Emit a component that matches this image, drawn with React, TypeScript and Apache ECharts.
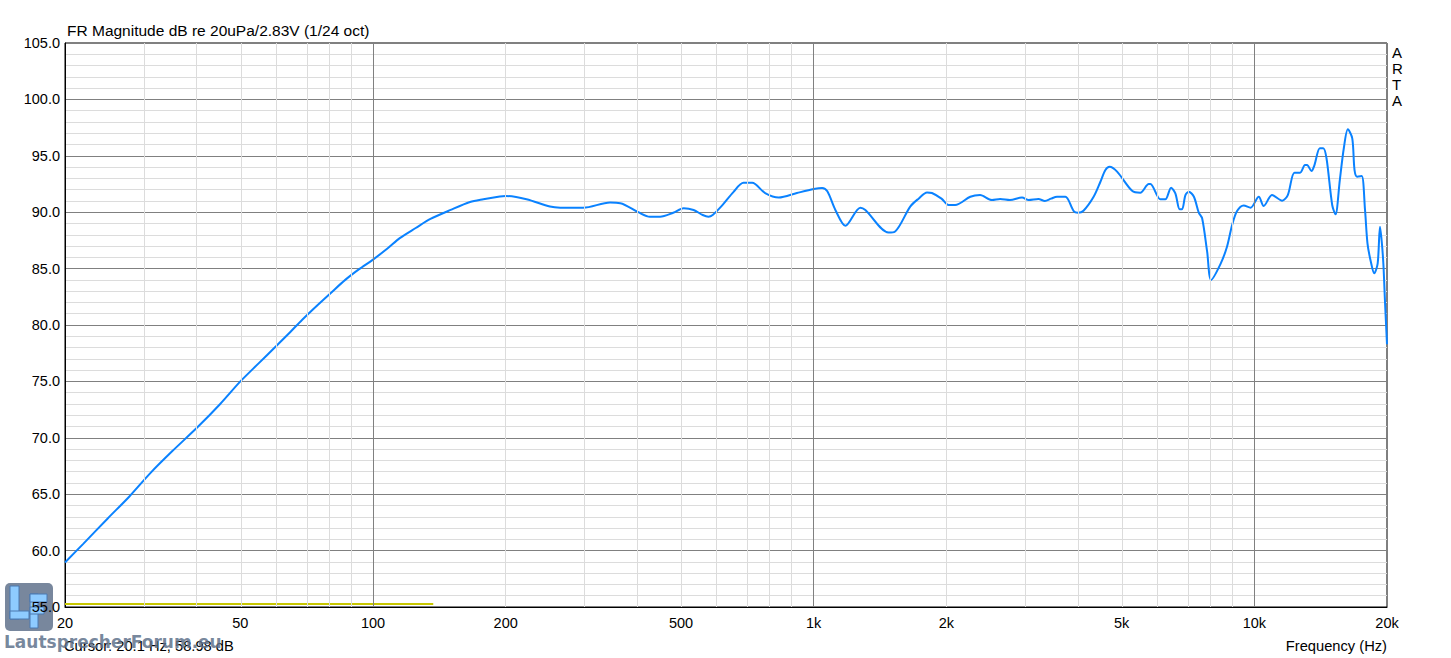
import React, { useEffect, useRef } from "react";
import * as echarts from "echarts";

// Frequency response (Hz, dB)
const freqHz = [
  20, 22, 25, 28, 31.2, 35, 40, 45, 50, 55, 60, 65, 69, 75, 80, 86.5, 93, 100, 108, 115, 125, 135, 150, 166, 178, 194,
  200, 223, 252, 266, 300, 345, 364, 400, 425, 448, 480, 507, 534, 560, 577, 590, 620, 658, 693, 725, 776, 833, 916,
  1000, 1045, 1074, 1120, 1180, 1276, 1310, 1479, 1528, 1656, 1730, 1808, 1855, 1950, 2024, 2094, 2267, 2385, 2539,
  2650, 2789, 2970, 3075, 3236, 3347, 3456, 3567, 3725, 3891, 3980, 4095, 4318, 4474, 4592, 4693, 4881, 5279, 5510,
  5759, 5810, 6120, 6281, 6473, 6618, 6769, 6854, 6976, 7100, 7292, 7480, 7612, 7814, 7980, 8377, 8668, 8904, 9136,
  9459, 9802, 10235, 10500, 10970, 11563, 11910, 12330, 12700, 13030, 13170, 13480, 13690, 14080, 14330, 14580, 15020,
  15280, 15630, 15960, 16300, 16680, 16880, 17120, 17520, 17830, 18060, 18380, 18710, 19050, 19280, 19460, 19630,
  19800, 20000,
];
const magDb = [
  58.95, 60.6, 62.85, 64.8, 66.85, 68.8, 70.95, 73.0, 75.0, 76.6, 78.05, 79.4, 80.45, 81.8, 82.8, 84.0, 84.95, 85.8,
  86.8, 87.7, 88.6, 89.4, 90.2, 90.9, 91.15, 91.4, 91.44, 91.15, 90.5, 90.4, 90.4, 90.85, 90.8, 90.0, 89.6, 89.6,
  89.95, 90.35, 90.2, 89.75, 89.6, 89.75, 90.6, 91.8, 92.6, 92.6, 91.7, 91.3, 91.7, 92.05, 92.15, 91.85, 90.2, 88.8,
  90.4, 90.2, 88.2, 88.27, 90.5, 91.2, 91.75, 91.7, 91.2, 90.64, 90.64, 91.37, 91.52, 91.08, 91.17, 91.08, 91.3,
  91.08, 91.17, 91.0, 91.2, 91.37, 91.37, 90.1, 89.96, 90.13, 91.37, 92.7, 93.74, 94.03, 93.6, 91.9, 91.73, 92.5,
  92.5, 91.14, 91.14, 92.17, 91.67, 90.26, 90.26, 91.52, 91.82, 91.37, 89.96, 89.46, 86.5, 84.0, 85.4, 86.94, 88.87,
  90.1, 90.6, 90.4, 91.37, 90.55, 91.52, 91.02, 91.52, 93.5, 93.5, 94.18, 94.18, 93.65, 94.18, 95.67, 95.67, 94.78,
  90.64, 89.81, 92.85, 95.67, 97.35, 96.55, 93.74, 93.15, 93.21, 90.2, 87.24, 85.61, 84.58, 85.47, 88.71, 87.38,
  85.32, 81.92, 78.3,
];

// Second (yellow) trace
const noiseHz = [20, 137];
const noiseDb = [55.27, 55.27];

const cursorHz = 20.1;
const cursorDb = 58.98;

const xTickHz = [20, 50, 100, 200, 500, 1000, 2000, 5000, 10000, 20000];
const majorGridHz = [100, 1000, 10000];
const minorGridHz = [
  30, 40, 50, 60, 70, 80, 90, 200, 300, 400, 500, 600, 700, 800, 900, 2000, 3000, 4000, 5000, 6000, 7000, 8000, 9000,
];

const yMin = 55;
const yMax = 105;
const yStep = 5;

const lg = (f: number) => Math.log10(f);
const fmtHz = (f: number) => (f >= 1000 ? `${f / 1000}k` : `${f}`);
const nearestTick = (v: number) => {
  let best = xTickHz[0];
  for (const t of xTickHz) if (Math.abs(lg(t) - v) < Math.abs(lg(best) - v)) best = t;
  return best;
};

const FONT = "'Liberation Sans', Arial, sans-serif";

export default function App() {
  const ref = useRef<HTMLDivElement>(null);

  useEffect(() => {
    document.body.style.margin = "0";
    const chart = echarts.init(ref.current!, undefined, { renderer: "svg" });
    const line = magDb.map((d, i) => [lg(freqHz[i]), d]);
    const noise = noiseDb.map((d, i) => [lg(noiseHz[i]), d]);

    chart.setOption({
      animation: false,
      backgroundColor: "#ffffff",
      grid: {
        left: 65,
        top: 43,
        right: 64,
        bottom: 51,
        show: true,
        borderColor: "#000",
        borderWidth: 1,
        backgroundColor: "#fff",
      },
      xAxis: {
        type: "value",
        min: lg(20),
        max: lg(20000),
        axisLine: { show: true, lineStyle: { color: "#000", width: 1 } },
        axisTick: { show: false },
        splitLine: { show: false },
        axisLabel: {
          customValues: xTickHz.map(lg),
          formatter: (v: number) => fmtHz(nearestTick(v)),
          color: "#000",
          fontFamily: FONT,
          fontSize: 14.5,
          margin: 8,
        },
      },
      yAxis: {
        type: "value",
        min: yMin,
        max: yMax,
        interval: yStep,
        axisLine: { show: true, lineStyle: { color: "#000", width: 1 } },
        axisTick: { show: false },
        axisLabel: {
          formatter: (v: number) => v.toFixed(1),
          color: "#000",
          fontFamily: FONT,
          fontSize: 14.5,
          margin: 5,
        },
        splitLine: { show: true, lineStyle: { color: "#808080", width: 1 } },
        minorTick: { show: false, splitNumber: 5 },
        minorSplitLine: { show: true, lineStyle: { color: "#dcdcdc", width: 1 } },
      },
      series: [
        {
          type: "line",
          name: "grid",
          data: [],
          silent: true,
          z: 1,
          markLine: {
            silent: true,
            symbol: ["none", "none"],
            label: { show: false },
            emphasis: { disabled: true },
            data: [
              ...minorGridHz.map((f) => ({ xAxis: lg(f), lineStyle: { color: "#dcdcdc", width: 1, type: "solid" } })),
              ...majorGridHz.map((f) => ({ xAxis: lg(f), lineStyle: { color: "#808080", width: 1, type: "solid" } })),
            ],
          },
        },
        {
          type: "line",
          name: "noise",
          data: noise,
          showSymbol: false,
          silent: true,
          z: 2,
          lineStyle: { color: "#c8c800", width: 2 },
          markLine: {
            silent: true,
            symbol: ["none", "none"],
            label: { show: false },
            data: [{ xAxis: lg(cursorHz), lineStyle: { color: "#c8c800", width: 1, type: "solid" } }],
          },
        },
        {
          type: "line",
          name: "FR",
          data: line,
          showSymbol: false,
          silent: true,
          z: 3,
          smooth: 0.3,
          lineStyle: { color: "#0a82ff", width: 2 },
        },
      ],
      graphic: [
        {
          type: "text",
          left: 67,
          top: 22,
          style: { text: "FR Magnitude dB re 20uPa/2.83V (1/24 oct)", font: `15.5px ${FONT}`, fill: "#000" },
        },
        {
          type: "text",
          left: 1392,
          top: 44,
          style: { text: "A\nR\nT\nA", font: `15px ${FONT}`, fill: "#000", lineHeight: 16 },
        },
        {
          type: "text",
          left: 64,
          top: 638,
          style: {
            text: `Cursor: ${cursorHz} Hz, ${cursorDb.toFixed(2)} dB`,
            font: `14.7px ${FONT}`,
            fill: "#000",
          },
        },
        {
          type: "text",
          right: 64,
          top: 638,
          style: { text: "Frequency (Hz)", font: `14.7px ${FONT}`, fill: "#000" },
        },
        {
          type: "group",
          z: 100,
          children: [
            {
              type: "rect",
              shape: { x: 5, y: 583, width: 48, height: 48, r: 5 },
              style: { fill: "rgba(96,114,140,0.85)" },
            },
            {
              type: "rect",
              shape: { x: 10, y: 586, width: 9, height: 33 },
              style: { fill: "#8ecbff", stroke: "#4a78b0", lineWidth: 1 },
            },
            {
              type: "rect",
              shape: { x: 10, y: 611, width: 19, height: 8 },
              style: { fill: "#8ecbff", stroke: "#4a78b0", lineWidth: 1 },
            },
            {
              type: "rect",
              shape: { x: 30, y: 594, width: 8, height: 34 },
              style: { fill: "#8ecbff", stroke: "#4a78b0", lineWidth: 1 },
            },
            {
              type: "rect",
              shape: { x: 30, y: 594, width: 17, height: 8 },
              style: { fill: "#8ecbff", stroke: "#4a78b0", lineWidth: 1 },
            },
            {
              type: "rect",
              shape: { x: 30, y: 607, width: 14, height: 7 },
              style: { fill: "#8ecbff", stroke: "#4a78b0", lineWidth: 1 },
            },
            {
              type: "text",
              x: 4,
              y: 633,
              style: {
                text: "LautsprecherForum.eu",
                font: `bold 17px 'DejaVu Sans', Verdana, sans-serif`,
                fill: "rgba(96,114,140,0.85)",
              },
            },
          ],
        },
      ],
    });
    return () => chart.dispose();
  }, []);

  return <div ref={ref} style={{ position: "fixed", left: 0, top: 0, width: 1451, height: 658 }} />;
}
